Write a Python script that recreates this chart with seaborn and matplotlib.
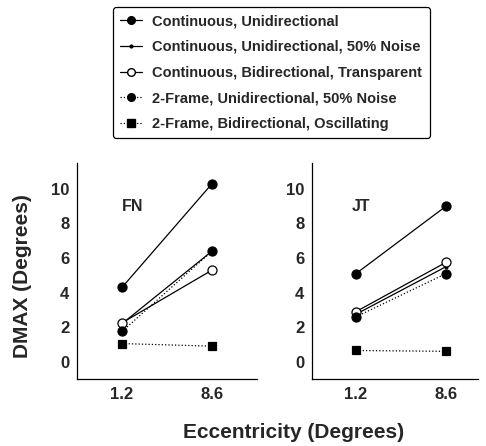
import matplotlib
matplotlib.use("Agg")
import matplotlib.pyplot as plt
import seaborn as sns
import pandas as pd
from matplotlib.lines import Line2D

sns.set_theme(style="white")
plt.rcParams['font.family'] = ['Liberation Sans', 'DejaVu Sans']
plt.rcParams['font.weight'] = 'bold'

eccentricity = [1.2, 8.6]
series_names = [
    "Continuous, Unidirectional",
    "Continuous, Unidirectional, 50% Noise",
    "Continuous, Bidirectional, Transparent",
    "2-Frame, Unidirectional, 50% Noise",
    "2-Frame, Bidirectional, Oscillating",
]
fn_cont_uni = [4.3, 10.3]
fn_cont_uni_noise = [2.2, 6.4]
fn_cont_bi = [2.25, 5.3]
fn_2f_uni_noise = [1.75, 6.4]
fn_2f_bi_osc = [1.05, 0.9]

jt_cont_uni = [5.1, 9.0]
jt_cont_uni_noise = [2.75, 5.5]
jt_cont_bi = [2.9, 5.75]
jt_2f_uni_noise = [2.6, 5.1]
jt_2f_bi_osc = [0.65, 0.6]

yticks = [0, 2, 4, 6, 8, 10]
xtick_labels = ["1.2", "8.6"]

styles = [
    dict(marker='o', markersize=6.5, markerfacecolor='black', linestyle='-', linewidth=0.9),
    dict(marker='o', markersize=2, markerfacecolor='black', linestyle='-', linewidth=0.9),
    dict(marker='o', markersize=6.5, markerfacecolor='white', linestyle='-', linewidth=0.9),
    dict(marker='o', markersize=6.5, markerfacecolor='black', linestyle=':', linewidth=0.9),
    dict(marker='s', markersize=6, markerfacecolor='black', linestyle=':', linewidth=0.9),
]

fig = plt.figure(figsize=(4.86, 4.46), dpi=100)
ax1 = fig.add_axes([77/486, 1-379/446, 180/486, 216/446])
ax2 = fig.add_axes([312/486, 1-379/446, 166/486, 216/446])

panels = [
    (ax1, "FN", [fn_cont_uni, fn_cont_uni_noise, fn_cont_bi, fn_2f_uni_noise, fn_2f_bi_osc], (-2.5, 12.3), 1.2),
    (ax2, "JT", [jt_cont_uni, jt_cont_uni_noise, jt_cont_bi, jt_2f_uni_noise, jt_2f_bi_osc], (-2.42, 11.23), 0.85),
]

for ax, name, data, xlim, tx in panels:
    for vals, st in zip(data, styles):
        df = pd.DataFrame({"x": eccentricity, "y": vals})
        sns.lineplot(data=df, x="x", y="y", ax=ax, color='black',
                     markeredgecolor='black', markeredgewidth=0.9, **st)
    ax.set_xlim(*xlim)
    ax.set_ylim(-1.0, 11.5)
    ax.set_xticks(eccentricity)
    ax.set_xticklabels(xtick_labels, fontsize=12, fontweight='bold')
    ax.set_yticks(yticks)
    ax.set_yticklabels([str(v) for v in yticks], fontsize=12, fontweight='bold')
    ax.set_xlabel("")
    ax.set_ylabel("")
    for s in ['top', 'right']:
        ax.spines[s].set_visible(False)
    for s in ['left', 'bottom']:
        ax.spines[s].set_color('black')
        ax.spines[s].set_linewidth(0.9)
    ax.tick_params(axis='both', direction='inout', length=5, width=0.8, color='black', pad=3)
    ax.text(tx, 9.0, name, fontsize=11.5, fontweight='bold', ha='left', va='center')

fig.text(23/486, 1-276/446, "DMAX (Degrees)", fontsize=15, fontweight='bold',
         rotation=90, ha='center', va='center')
fig.text(294/486, 1-432/446, "Eccentricity (Degrees)", fontsize=15, fontweight='bold',
         ha='center', va='center')

handles = [Line2D([0], [0], color='black', markeredgecolor='black', **st) for st in styles]
for h in handles:
    if h.get_markersize() > 5:
        h.set_markersize(5.5)
leg = fig.legend(handles, series_names, loc='upper left',
                 bbox_to_anchor=(113/486, 1-7/446),
                 prop={'weight': 'bold', 'size': 10.5},
                 frameon=True, fancybox=True, handlelength=1.5, handletextpad=0.7,
                 labelspacing=0.8, borderpad=0.5, borderaxespad=0)
leg.get_frame().set_edgecolor('black')
leg.get_frame().set_linewidth(0.9)
leg.get_frame().set_alpha(1)

fig.savefig("out.png", dpi=100)
